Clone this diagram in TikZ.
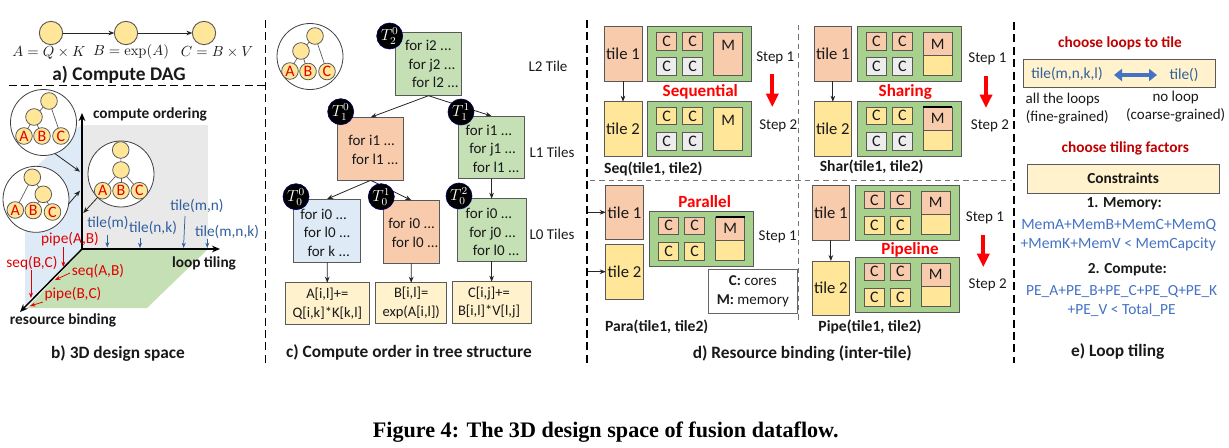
\documentclass[tikz,border=0pt]{standalone}
\usepackage[no-math]{fontspec}
\setmainfont{Carlito}
\newfontfamily\capfont{Liberation Serif}
\usetikzlibrary{arrows.meta}
\definecolor{cgreen}{HTML}{C5E0B4}
\definecolor{cgreenb}{HTML}{A9D18E}
\definecolor{corange}{HTML}{F8CBAD}
\definecolor{cblue}{HTML}{DEEBF7}
\definecolor{cyel}{HTML}{FFE699}
\definecolor{ccream}{HTML}{FFF2CC}
\definecolor{cgray}{HTML}{EDEDED}
\definecolor{cpanel}{HTML}{E9E9E9}
\definecolor{edgec}{HTML}{595959}
\definecolor{tblue}{HTML}{2F5F9E}
\definecolor{lblue}{HTML}{4472C4}
\definecolor{dred}{HTML}{C00000}
\definecolor{lred}{HTML}{E00000}
\tikzset{
  lab/.style={inner sep=0pt,outer sep=0pt,font=\fontsize{11.25}{14}\selectfont,text=black!90},
  blab/.style={lab,font=\fontsize{11.5}{14}\selectfont\bfseries},
  capt/.style={lab,font=\fontsize{13}{15}\selectfont\bfseries},
  nameb/.style={lab,font=\fontsize{11.7}{14}\selectfont\bfseries},
  mathl/.style={lab,font=\fontsize{10.5}{14}\selectfont},
  loopt/.style={lab,align=left,anchor=west,font=\fontsize{11.25}{13.9}\selectfont},
  blt/.style={lab,text=tblue,font=\fontsize{11.5}{14}\selectfont},
  rlt/.style={lab,text=lred,font=\fontsize{11.5}{14}\selectfont},
  head/.style={lab,text=red,font=\fontsize{12.8}{15}\selectfont\bfseries},
  chd/.style={lab,text=dred,font=\fontsize{11.5}{14}\selectfont\bfseries},
  boxs/.style={draw=edgec,line width=.75pt,inner sep=0pt,outer sep=0pt,rectangle,text=black!90},
  tilebox/.style={font=\fontsize{12.5}{14}\selectfont},
  corebox/.style={font=\fontsize{12}{14}\selectfont},
  codebox/.style={fill=ccream,align=center,font=\fontsize{10.9}{14.2}\selectfont},
  tc/.style={circle,draw=edgec,line width=.6pt,fill=cyel,minimum size=12.5pt,inner sep=0pt,outer sep=0pt,text=lred,font=\fontsize{12}{12}\selectfont},
  bigc/.style={circle,draw=black!75,line width=.6pt,fill=white,minimum size=49.5pt,inner sep=0pt,outer sep=0pt},
  dagc/.style={circle,draw=edgec,line width=.7pt,fill=cyel,minimum size=17.5pt,inner sep=0pt,outer sep=0pt},
  badge/.style={circle,fill=black,draw=blue!40!black,line width=.5pt,minimum size=19.5pt,inner sep=0pt,text=white,font=\fontsize{12}{13}\selectfont},
  tedge/.style={draw=edgec,line width=.5pt},
  arr/.style={draw=black!85,line width=.6pt,-{Stealth[length=4.5pt,width=3.5pt]}},
  axis/.style={draw=black,line width=1.1pt,-{Stealth[length=6pt,width=5pt]}},
  barr/.style={draw=tblue,line width=.55pt,-{Stealth[length=4pt,width=3pt]}},
  rarr/.style={draw=lred,line width=.55pt,-{Stealth[length=4pt,width=3pt]}},
  bigred/.style={draw=red,line width=3pt,-{Triangle[length=10pt,width=9pt]}},
  bdash/.style={draw=black,line width=1.4pt,dash pattern=on 6pt off 3.3pt},
  gdash/.style={draw=black!55,line width=.75pt,dash pattern=on 4pt off 3pt},
}
% rectangle node from pixel corners
\newcommand{\rbox}[7]{%
  \pgfmathsetmacro\rcx{((#3)+(#5))/2}\pgfmathsetmacro\rcy{((#4)+(#6))/2}%
  \pgfmathsetmacro\rw{((#5)-(#3))*0.75}\pgfmathsetmacro\rh{((#6)-(#4))*0.75}%
  \node[boxs,minimum width=\rw pt,minimum height=\rh pt,#2] (#1) at (\rcx,\rcy) {#7};}
% small tree in a circle
\newcommand{\TreeAt}[9]{%
  \node[bigc] (#1) at (#2) {};
  \node[tc] (#1top) at (#3) {};
  \node[tc] (#1mid) at (#4) {};
  \node[tc] (#1A) at (#5) {A};
  \node[tc] (#1B) at (#6) {B};
  \node[tc] (#1C) at (#7) {C};
  \draw[tedge] (#1top) -- (#1mid);
  \foreach \u/\v in {#8} \draw[tedge] (#1\u) -- (#1\v);
  #9}
% green resource block: name, x, y, four core colours, M top, M bottom
\newcommand{\Res}[9]{%
  \pgfmathsetmacro\gxa{#2}\pgfmathsetmacro\gya{#3}%
  \rbox{#1}{fill=cgreenb}{\gxa}{\gya}{\gxa+104}{\gya+55}{}
  \rbox{#1ca}{corebox,fill=#4}{\gxa+9}{\gya+6}{\gxa+29}{\gya+23.5}{C}
  \rbox{#1cb}{corebox,fill=#5}{\gxa+35}{\gya+6}{\gxa+55}{\gya+23.5}{C}
  \rbox{#1cc}{corebox,fill=#6}{\gxa+9}{\gya+31}{\gxa+29}{\gya+49}{C}
  \rbox{#1cd}{corebox,fill=#7}{\gxa+35}{\gya+31}{\gxa+55}{\gya+49}{C}
  \def\mta{#8}\def\mtb{#9}%
  \ifx\mta\mtb
    \rbox{#1m}{fill=#8}{\gxa+66}{\gya+6}{\gxa+95}{\gya+49}{}
    \node[lab,corebox] (#1ml) at (\gxa+80.5,\gya+19) {M};
  \else
    \rbox{#1mb}{fill=#9}{\gxa+66}{\gya+29}{\gxa+95}{\gya+49}{}
    \rbox{#1m}{corebox,fill=#8}{\gxa+66}{\gya+6}{\gxa+95}{\gya+29}{M}
  \fi}
\begin{document}
\begin{tikzpicture}[x=0.75pt,y=-0.75pt]
\useasboundingbox (0,0) rectangle (1229,447);
% ---------- separators
\coordinate (ha) at (9,85.5); \coordinate (hb) at (265.5,85.5);
\coordinate (va1) at (265.5,20); \coordinate (va2) at (265.5,363);
\coordinate (vb1) at (587,20); \coordinate (vb2) at (587,363);
\coordinate (vc1) at (1014,22); \coordinate (vc2) at (1014,363);
\coordinate (ga1) at (798.7,25); \coordinate (ga2) at (798.7,323);
\coordinate (gb1) at (590,180.7); \coordinate (gb2) at (1012,180.7);
\draw[bdash] (ha) -- (hb);
\draw[bdash] (va1) -- (va2);
\draw[bdash] (vb1) -- (vb2);
\draw[bdash] (vc1) -- (vc2);
\draw[gdash] (ga1) -- (ga2);
\draw[gdash] (gb1) -- (gb2);
% ---------- a) DAG
\node[dagc] (da) at (51,33) {};
\node[dagc] (db) at (126,33) {};
\node[dagc] (dc) at (204,33) {};
\draw[arr] (da) -- (db);
\draw[arr] (db) -- (dc);
\node[mathl] (la) at (49,53) {$A=Q\times K$};
\node[mathl] (lb) at (131,52) {$B=\exp(A)$};
\node[mathl] (lc) at (217,52) {$C=B\times V$};
\node[capt,font=\fontsize{14.5}{16}\selectfont\bfseries] (capa) at (119,75) {a) Compute DAG};
% ---------- b) design space
\fill[cpanel] (83,125) rectangle (208,248);
\fill[cblue] (83,123) -- (25,177) -- (25,308) -- (83,248) -- cycle;
\fill[cgreen] (83,249) -- (208,249) -- (147,308) -- (27,308) -- cycle;
\coordinate (orig) at (82,249);
\coordinate (axz) at (82,113);
\coordinate (axx) at (220,249);
\coordinate (axy) at (20,312);
\draw[axis] (orig) -- (axz);
\draw[axis] (orig) -- (axx);
\draw[axis] (orig) -- (axy);
\TreeAt{ta}{43.5,122.5}{49,101}{34,117}{24,136}{42,136}{61,136}{top/C,mid/A,mid/B}{}
\TreeAt{tb}{121,174}{120.7,150}{121,170}{102.7,190.7}{121,190.7}{139.3,190.7}{mid/A,mid/B,mid/C}{}
\TreeAt{tc3}{36,199.3}{32.3,177.3}{43.3,194.3}{15.3,210}{33.3,210.5}{52.5,212}{top/A,mid/B,mid/C}{}
\coordinate (ea) at (80,171.7);
\coordinate (eb) at (80,190.7);
\coordinate (ec) at (83.3,213);
\draw[arr] (ta.-70) -- (ea);
\draw[arr] (tc3.-8) -- (eb);
\draw[arr] (tb.-135) -- (ec);
\node[blab] (lco) at (150,114) {compute ordering};
\node[blab] (llt) at (204,263) {loop tiling};
\node[blab] (lrb) at (63,320) {resource binding};
\node[capt] (capb) at (118,354) {b) 3D design space};
\node[blt] (t1) at (108,223) {tile(m)};
\node[blt] (t2) at (153,228) {tile(n,k)};
\node[blt] (t3) at (197,206) {tile(m,n)};
\node[blt] (t4) at (227,232) {tile(m,n,k)};
\coordinate (t1e) at (107.3,247.5); \coordinate (t2e) at (140,248);
\coordinate (t3e) at (183.5,248); \coordinate (t4e) at (207.3,248);
\draw[barr] (107.3,235) -- (t1e);
\draw[barr] (140,238) -- (t2e);
\draw[barr] (185,216) -- (t3e);
\draw[barr] (207.3,239) -- (t4e);
\node[rlt] (r1) at (70,239) {pipe(A,B)};
\node[rlt] (r2) at (32,263) {seq(B,C)};
\node[rlt] (r3) at (98,271) {seq(A,B)};
\node[rlt] (r4) at (73,294) {pipe(B,C)};
\coordinate (r1e) at (63.3,267); \coordinate (r2e) at (31,298);
\coordinate (r3e) at (55,280); \coordinate (r4e) at (30,306);
\draw[rarr] (63.3,247) -- (r1e);
\draw[rarr] (31,270) -- (r2e);
\draw[rarr] (70,273) -- (r3e);
\draw[rarr] (43,302) -- (r4e);
% ---------- c) tree
\TreeAt{td}{310,56.5}{315,36}{301,51}{290,71}{308,71.5}{327,71.5}{top/C,mid/A,mid/B}{}
\rbox{Ltwo}{fill=cgreen}{395.3}{32.3}{461.7}{95.7}{}
\rbox{Loa}{fill=corange}{337.7}{117.3}{403.7}{180.3}{}
\rbox{Lob}{fill=cgreen}{458.7}{116}{524.3}{178.7}{}
\rbox{Lza}{fill=cblue}{293.7}{199}{360.7}{262.3}{}
\rbox{Lzb}{fill=corange}{383.3}{200.3}{439.3}{263.3}{}
\rbox{Lzc}{fill=cgreen}{457.3}{198.7}{526}{261.3}{}
\rbox{Ca}{codebox}{285.3}{282.7}{369.3}{324.3}{A[i,l]+=\\Q[i,k]*K[k,l]}
\rbox{Cb}{codebox}{375.7}{282.7}{446.7}{323.3}{B[i,l]=\\exp(A[i,l])}
\rbox{Cc}{codebox}{452.3}{281.7}{531}{323.3}{C[i,j]+=\kern 4pt\\B[i,l]*V[l,j]\kern 4pt}
\draw[arr] (Ltwo.south) -- (Loa.north);
\draw[arr] (Ltwo.south) -- (Lob.north);
\draw[arr] (Loa.south) -- (Lza.north);
\draw[arr] (Loa.south) -- (Lzb.north);
\draw[arr] (Lob.south) -- (Lzc.north);
\draw[arr] (Lza.south) -- (Ca.north);
\draw[arr] (Lzb.south) -- (Cb.north);
\draw[arr] (Lzc.south) -- (Cc.north);
\node[loopt] (xa) at (405,64) {for i2 ...\\\hspace*{2.7pt}for j2 ...\\\hspace*{5.4pt}for l2 ...};
\node[loopt] (xb) at (348.3,150) {for i1 ...\\\hspace*{2.7pt}for l1 ...};
\node[loopt] (xc) at (465.7,148.7) {for i1 ...\\\hspace*{2.7pt}for j1 ...\\\hspace*{5.4pt}for l1 ...};
\node[loopt] (xd) at (300.3,232.5) {for i0 ...\\\hspace*{2.7pt}for l0 ...\\\hspace*{5.4pt}for k ...};
\node[loopt] (xe) at (388.3,232.7) {for i0 ...\\\hspace*{2.7pt}for l0 ...};
\node[loopt] (xf) at (465.7,232) {for i0 ...\\\hspace*{2.7pt}for j0 ...\\\hspace*{5.4pt}for l0 ...};
\node[badge] (ba) at (389.7,36) {$T_2^0$};
\node[badge] (bb) at (340.7,111.7) {$T_1^0$};
\node[badge] (bc) at (461,112) {$T_1^1$};
\node[badge] (bd) at (296,196.7) {$T_0^0$};
\node[badge] (be) at (381.3,196.7) {$T_0^1$};
\node[badge] (bf) at (459,196) {$T_0^2$};
\node[lab] (ll2) at (548,66) {L2 Tile};
\node[lab] (ll1) at (552,152.7) {L1 Tiles};
\node[lab] (ll0) at (552,234) {L0 Tiles};
\node[capt] (capc) at (409,352) {c) Compute order in tree structure};
% ---------- d) resource binding
% Seq
\rbox{sqa}{tilebox,fill=corange}{604}{26.7}{642}{81}{tile 1}
\rbox{sqb}{tilebox,fill=cyel}{604}{101.7}{642}{156}{tile 2}
\draw[arr] (sqa) -- (sqb);
\Res{sqr}{647.7}{26.7}{corange}{corange}{cgray}{cgray}{corange}{corange}
\Res{sqs}{647.7}{101.3}{cyel}{cyel}{cgray}{cgray}{cyel}{cyel}
\node[head] (hsq) at (700.3,91.7) {Sequential};
\node[lab] (ssa) at (775.3,58.3) {Step 1};
\node[lab] (ssb) at (778.3,125.7) {Step 2};
\coordinate (ras) at (772.3,74); \coordinate (rae) at (772.3,107);
\draw[bigred] (ras) -- (rae);
\node[nameb] (nsq) at (653.3,169.3) {Seq(tile1, tile2)};
% Share
\rbox{sha}{tilebox,fill=corange}{814}{26.7}{851.7}{81}{tile 1}
\rbox{shb}{tilebox,fill=cyel}{814}{101.7}{851.7}{156}{tile 2}
\draw[arr] (sha) -- (shb);
\Res{shr}{857.3}{26.7}{corange}{corange}{cgray}{cgray}{corange}{cyel}
\Res{shs}{857.3}{101}{cyel}{cyel}{cgray}{cgray}{corange}{cyel}
\draw[black,line width=.8pt] (shsm.north west) -- (shsm.north east);
\node[head] (hsh) at (905.3,91.7) {Sharing};
\node[lab] (sha1) at (987.5,59) {Step 1};
\node[lab] (sha2) at (990,126) {Step 2};
\coordinate (rbs) at (986,76); \coordinate (rbe) at (986,108);
\draw[bigred] (rbs) -- (rbe);
\node[nameb] (nsh) at (871.7,167.3) {Shar(tile1, tile2)};
% Para
\rbox{paa}{tilebox,fill=corange}{605.7}{185.3}{643.3}{239.3}{tile 1}
\rbox{pab}{tilebox,fill=cyel}{605.7}{244.7}{643.3}{299}{tile 2}
\coordinate (pa1) at (588,212.3); \coordinate (pa2) at (588,271.7);
\draw[arr] (pa1) -- (pa1-|paa.west);
\draw[arr] (pa2) -- (pa2-|pab.west);
\Res{par}{649.7}{211}{corange}{corange}{cyel}{cyel}{corange}{cyel}
\draw[black,line width=.8pt] (parm.north west) -- (parm.north east);
\node[head] (hpa) at (704.7,202) {Parallel};
\node[lab] (spa) at (777.7,237.3) {Step 1};
\rbox{leg}{fill=white,draw=black!60,align=center,font=\fontsize{11.25}{14.2}\selectfont}{708.3}{269.3}{797.3}{313.3}{\textbf{C:} cores\\\textbf{M:} memory}
\node[nameb] (npa) at (656.7,326.7) {Para(tile1, tile2)};
% Pipe
\rbox{pia}{tilebox,fill=corange}{812}{185.3}{849.7}{240}{tile 1}
\rbox{pib}{tilebox,fill=cyel}{812}{261}{849.7}{315.3}{tile 2}
\draw[arr] (pia) -- (pib);
\Res{pir}{855.3}{185.3}{corange}{corange}{cyel}{cyel}{corange}{cyel}
\Res{pis}{855.3}{257}{corange}{corange}{cyel}{cyel}{corange}{cyel}
\node[head] (hpi) at (910,249.7) {Pipeline};
\node[lab] (spi1) at (985,218) {Step 1};
\node[lab] (spi2) at (987.7,285) {Step 2};
\coordinate (rcs) at (983.3,235); \coordinate (rce) at (983.3,267);
\draw[bigred] (rcs) -- (rce);
\node[nameb] (npi) at (870,326.7) {Pipe(tile1, tile2)};
\node[capt] (capd) at (802.3,353.3) {d) Resource binding (inter-tile)};
% ---------- e) loop tiling
\node[chd] (ca1) at (1120,43.3) {choose loops to tile};
\rbox{eb1}{fill=ccream}{1023.7}{59}{1215.7}{87.7}{}
\node[blt] (ea1) at (1067,74.3) {tile(m,n,k,l)};
\node[blt] (ea2) at (1184,75) {tile()};
\coordinate (eaa) at (1114,75); \coordinate (eab) at (1157,75);
\draw[draw=lblue,line width=2.6pt,{Triangle[length=6pt,width=9pt]}-{Triangle[length=6pt,width=9pt]}] (eaa) -- (eab);
\node[lab] (eal) at (1062.7,99) {all the loops};
\node[lab] (eaf) at (1067.3,117.3) {(fine-grained)};
\node[lab] (enl) at (1175.7,97.3) {no loop};
\node[lab] (enf) at (1175.7,115.7) {(coarse-grained)};
\node[chd] (ca2) at (1125.3,148.7) {choose tiling factors};
\rbox{eb2}{fill=ccream,font=\fontsize{11.5}{14}\selectfont\bfseries}{1027}{164.3}{1219.3}{193}{Constraints}
\node[blab] (em) at (1124.3,204) {1. Memory:};
\node[blt,text=lblue,font=\fontsize{11.75}{14}\selectfont] (em1) at (1118.7,225) {MemA+MemB+MemC+MemQ};
\node[blt,text=lblue,font=\fontsize{11.75}{14}\selectfont] (em2) at (1118.3,244) {+MemK+MemV < MemCapcity};
\node[blab] (ec2) at (1127.3,270) {2. Compute:};
\node[blt,text=lblue,font=\fontsize{11.6}{14}\selectfont] (ec3) at (1121.7,291.7) {PE\_A+PE\_B+PE\_C+PE\_Q+PE\_K};
\node[blt,text=lblue,font=\fontsize{11.6}{14}\selectfont] (ec4) at (1121.7,310) {+PE\_V < Total\_PE};
\node[capt] (cape) at (1117.7,351.7) {e) Loop tiling};
% ---------- figure caption
\node[lab,text=black,font=\capfont\fontsize{16.6}{19}\selectfont\bfseries] (fig) at (605.7,431.7) {Figure 4: The 3D design space of fusion dataflow.};
\end{tikzpicture}
\end{document}
